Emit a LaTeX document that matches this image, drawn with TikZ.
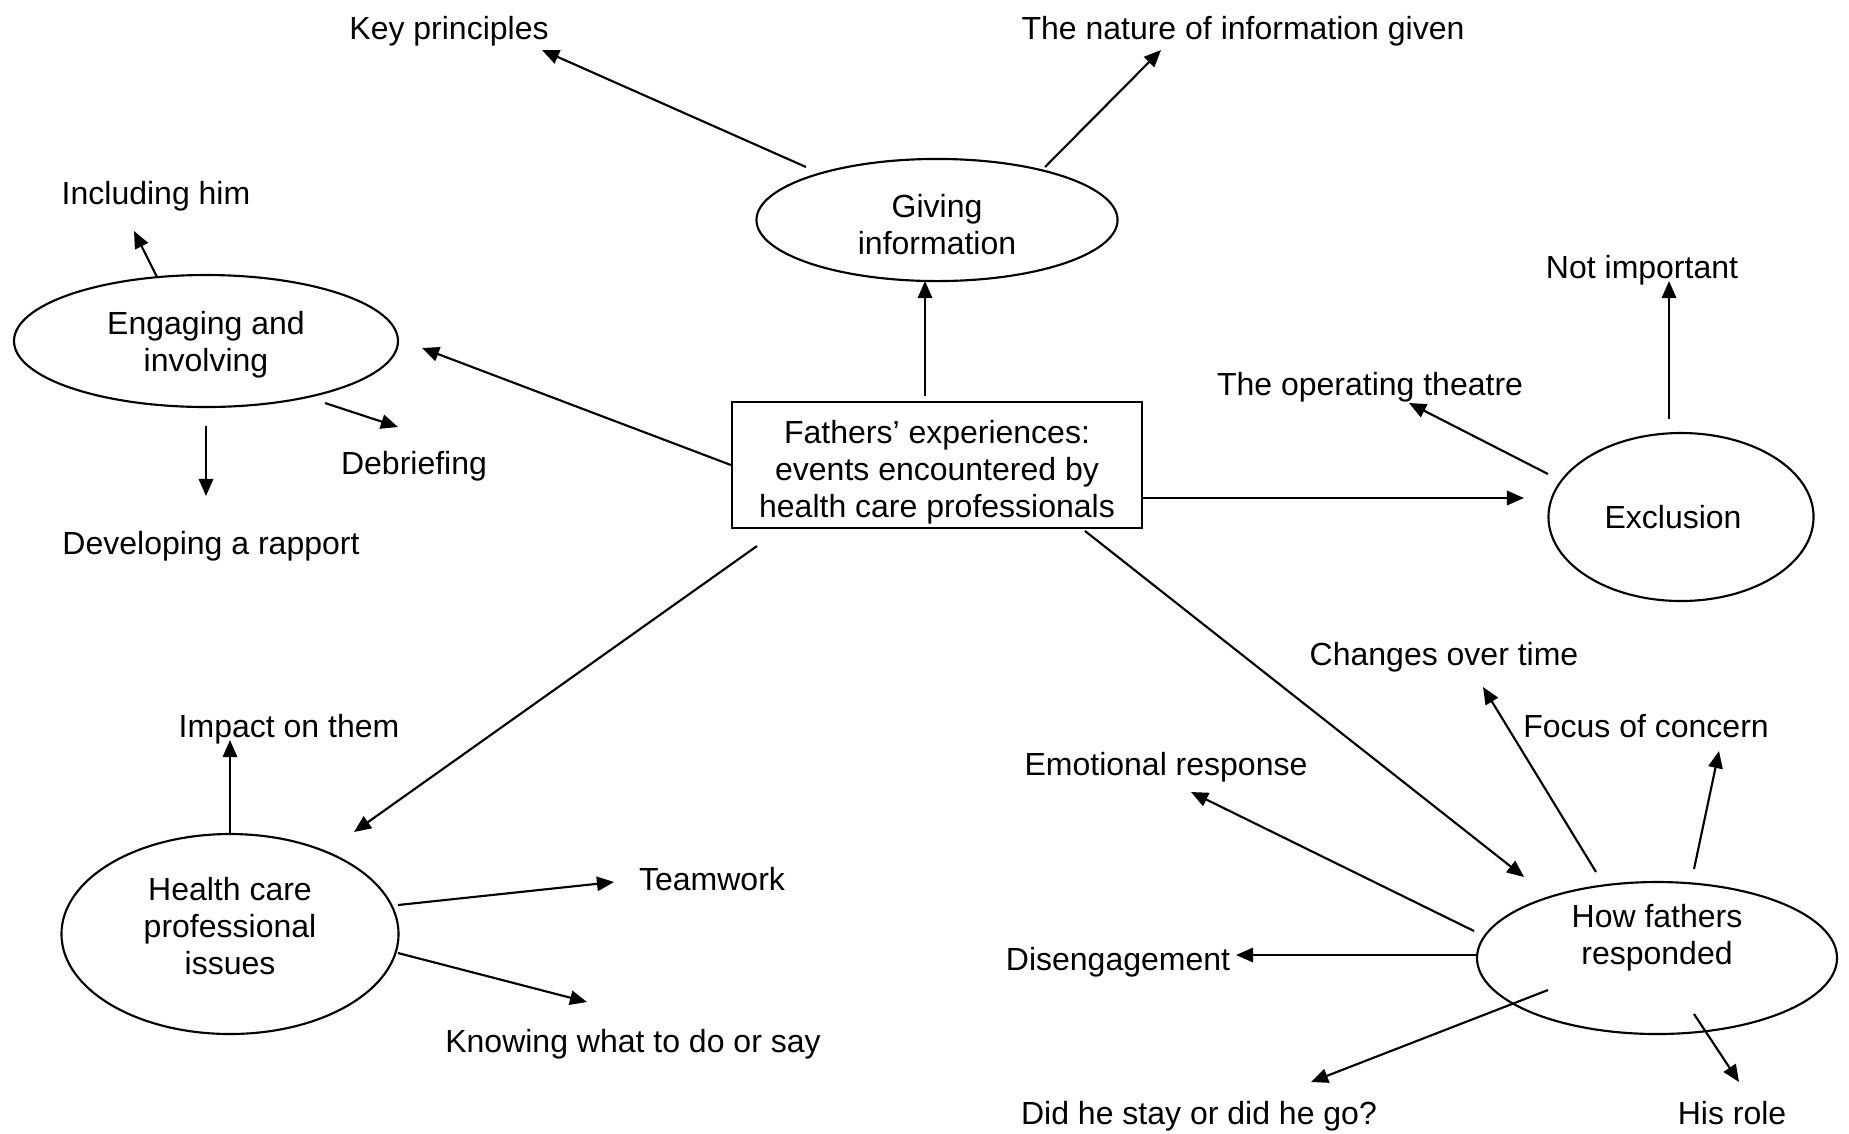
\documentclass[tikz,border=0pt]{standalone}
\usepackage{fontspec}
\setmainfont{Liberation Sans}
\usetikzlibrary{arrows.meta,calc,shapes.geometric}
\newcommand{\fsz}{\fontsize{12}{13.8}\selectfont}
% lines of a node, moved up or down inside its shape
\newcommand{\liftlines}[2]{\raisebox{#1}[\height][\depth]{\begin{tabular}{@{}c@{}}#2\end{tabular}}}
\tikzset{
  theme/.style={ellipse, draw, line width=0.8pt, inner sep=0pt, align=center, font=\fsz},
  core/.style={rectangle, draw, line width=0.8pt, inner sep=0pt, align=center,
    minimum width=153.8pt, minimum height=47.3pt, font=\fsz},
  lbl/.style={inner sep=0pt, text height=11.6pt, text depth=2.5pt, font=\fsz},
  arr/.style={-{Triangle[length=6.4pt,width=5.4pt]}, line width=0.8pt}
}

\begin{document}
\begin{tikzpicture}[x=0.375pt, y=-0.375pt]
  \useasboundingbox (0,0) rectangle (1849,1133);
  % centre and themes
  \node[core] (box) at (937,465) {\liftlines{-3pt}{Fathers’ experiences:\\events encountered by\\health care professionals}};
  \node[theme, minimum width=135.4pt, minimum height=45.8pt] (giving) at (937,220) {\liftlines{-3.3pt}{Giving\\information}};
  \node[theme, minimum width=144pt, minimum height=49.5pt] (engage) at (206,341) {\liftlines{-1.7pt}{Engaging and\\involving}};
  \node[theme, minimum width=99.4pt, minimum height=63pt] (excl) at (1681,517) {Exclusion\hspace*{6pt}};
  \node[theme, minimum width=126.4pt, minimum height=75pt] (health) at (230,934) {\liftlines{1.4pt}{Health care\\professional\\issues}};
  \node[theme, minimum width=135pt, minimum height=57pt] (fathers) at (1657,958) {\liftlines{7.2pt}{How fathers\\responded}};

  % sub-themes
  \node[lbl] (keyp) at (449,27) {Key principles};
  \node[lbl] (nature) at (1243,27) {The nature of information given};
  \node[lbl] (incl) at (156,192) {Including him};
  \node[lbl] (debr) at (414,462) {Debriefing};
  \node[lbl] (rapport) at (211,542) {Developing a rapport};
  \node[lbl] (notimp) at (1642,266) {Not important};
  \node[lbl] (theatre) at (1370,383) {The operating theatre};
  \node[lbl] (changes) at (1444,653) {Changes over time};
  \node[lbl] (focus) at (1646,725) {Focus of concern};
  \node[lbl] (emo) at (1166,763) {Emotional response};
  \node[lbl] (diseng) at (1118,958) {Disengagement};
  \node[lbl] (stay) at (1199,1112) {Did he stay or did he go?};
  \node[lbl] (role) at (1732,1112) {His role};
  \node[lbl] (impact) at (289,725) {Impact on them};
  \node[lbl] (team) at (712,878) {Teamwork};
  \node[lbl] (knowing) at (633,1040) {Knowing what to do or say};

  % from the centre
  \draw[arr] ($(box)+(-12,-69)$) -- ($(giving)+(-12,61)$);
  \draw[arr] (box.west) -- ($(engage)+(216,7)$);
  \draw[arr] ($(box.east)+(0,33)$) -- ($(excl)+(-157,-19)$);
  \draw[arr] ($(box)+(148,66)$) -- ($(fathers)+(-133,-81)$);
  \draw[arr] ($(box)+(-180,81)$) -- ($(health)+(124,-102)$);

  % giving information
  \draw[arr] ($(giving)+(-131,-53)$) -- ($(keyp)+(93,23)$);
  \draw[arr] ($(giving)+(108,-53)$) -- ($(nature)+(-82,23)$);

  % engaging and involving
  \draw[arr] ($(engage)+(-49,-64)$) -- ($(incl)+(-22,39)$);
  \draw[arr] ($(engage)+(119,62)$) -- ($(debr)+(-16,-35)$);
  \draw[arr] ($(engage)+(0,85)$) -- ($(rapport)+(-5,-46)$);

  % exclusion
  \draw[arr] ($(excl)+(-133,-43)$) -- ($(theatre)+(39,20)$);
  \draw[arr] ($(excl)+(-12,-98)$) -- ($(notimp)+(27,15)$);

  % how fathers responded
  \draw[arr] ($(fathers)+(-61,-86)$) -- ($(changes)+(39,34)$);
  \draw[arr] ($(fathers)+(37,-89)$) -- ($(focus)+(73,26)$);
  \draw[arr] ($(fathers)+(-183,-27)$) -- ($(emo)+(25,29)$);
  \draw[arr] ($(fathers)+(-180,-3)$) -- ($(diseng)+(118,-3)$);
  \draw[arr] ($(fathers)+(-109,32)$) -- ($(stay)+(112,-30)$);
  \draw[arr] ($(fathers)+(37,56)$) -- ($(role)+(7,-30)$);

  % health care professional issues
  \draw[arr] ($(health)+(0,-100)$) -- ($(impact)+(-59,15)$);
  \draw[arr] ($(health)+(168,-29)$) -- ($(team)+(-98,4)$);
  \draw[arr] ($(health)+(168,19)$) -- ($(knowing)+(-46,-38)$);
\end{tikzpicture}
\end{document}
